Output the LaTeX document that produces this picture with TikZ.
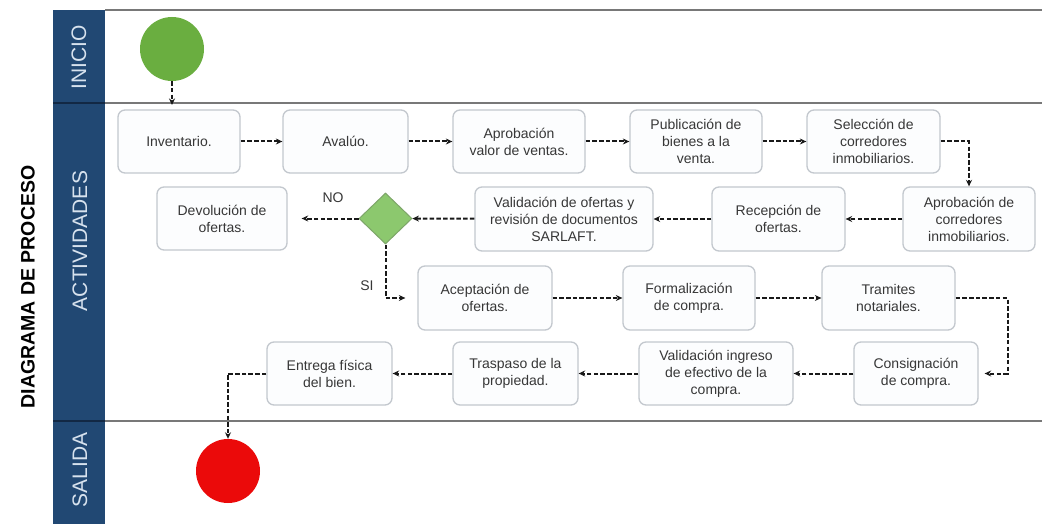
\documentclass[tikz,border=0pt]{standalone}
\usepackage{fontspec}
\setmainfont{Liberation Sans}
\usetikzlibrary{arrows.meta,shapes.geometric}
\definecolor{bandblue}{RGB}{33,72,115}
\definecolor{bandsep}{RGB}{18,40,68}
\definecolor{lanewhite}{RGB}{215,226,238}
\definecolor{lanegray}{RGB}{120,120,120}
\definecolor{boxborder}{RGB}{195,200,206}
\definecolor{boxfill}{RGB}{252,253,254}
\definecolor{txtgray}{RGB}{55,55,55}
\definecolor{arrowcol}{RGB}{25,25,25}
\definecolor{startgreen}{RGB}{106,174,64}
\definecolor{endred}{RGB}{235,10,10}
\definecolor{diafill}{RGB}{140,200,110}
\definecolor{diaborder}{RGB}{125,165,105}
\begin{document}
\begin{tikzpicture}[x=1pt,y=-1pt,
  proc/.style={draw=boxborder,line width=1.3pt,fill=boxfill,rounded corners=7pt,inner sep=0pt,align=center,font=\fontsize{14}{17}\selectfont,text=txtgray},
  conn/.style={draw=arrowcol,line width=2pt,dash pattern=on 4.5pt off 2.2pt,-{Stealth[length=6.5pt,width=6pt]}},
  lanetxt/.style={rotate=90,text=lanewhite,font=\fontsize{21}{24}\selectfont},
  laneline/.style={draw=lanegray,line width=1.8pt},
  lbl/.style={text=txtgray,font=\fontsize{14}{17}\selectfont}]
\useasboundingbox (0,0) rectangle (1042,524);
\fill[white] (0,0) rectangle (1042,524);
% lanes
\fill[bandblue] (53,10) rectangle (105,524);
\draw[bandsep,line width=2pt] (53,103) -- (105,103);
\draw[bandsep,line width=2pt] (53,421) -- (105,421);
\draw[laneline] (105,10) -- (1042,10);
\draw[laneline] (105,103) -- (1042,103);
\draw[laneline] (105,421) -- (1042,421);
\node[rotate=90,font=\bfseries\fontsize{19.5}{24}\selectfont] (title) at (28,287) {DIAGRAMA DE PROCESO};
\node[lanetxt] (linicio) at (79,57) {INICIO};
\node[lanetxt] (lactiv) at (80,241) {ACTIVIDADES};
\node[lanetxt] (lsalida) at (80,470) {SALIDA};
% events
\node[circle,fill=startgreen,minimum size=64pt,inner sep=0pt] (start) at (172,49) {};
\node[circle,fill=endred,minimum size=64pt,inner sep=0pt] (fin) at (228,471) {};
\coordinate (startend) at (172,105);
% row 1
\node[proc,minimum width=122pt,minimum height=63pt] (inv) at (179,141.5) {Inventario.};
\node[proc,minimum width=125pt,minimum height=63pt] (ava) at (345.5,141.5) {Avalúo.};
\node[proc,minimum width=132pt,minimum height=63pt] (apv) at (519,141.5) {Aprobación\\valor de ventas.};
\node[proc,minimum width=132pt,minimum height=63pt] (pub) at (696,141.5) {Publicación de\\bienes a la\\venta.};
\node[proc,minimum width=133pt,minimum height=63pt] (sel) at (873.5,141.5) {Selección de\\corredores\\inmobiliarios.};
% row 2
\node[proc,minimum width=132pt,minimum height=64pt] (apc) at (969,219) {Aprobación de\\corredores\\inmobiliarios.};
\node[proc,minimum width=133pt,minimum height=64pt] (rec) at (778.5,219) {Recepción de\\ofertas.};
\node[proc,minimum width=178pt,minimum height=64pt] (val) at (564,219) {Validación de ofertas y\\revisión de documentos\\SARLAFT.};
\node[diamond,draw=diaborder,line width=1pt,fill=diafill,minimum width=53pt,minimum height=51pt,inner sep=0pt] (dia) at (385.5,218.5) {};
\node[proc,minimum width=130pt,minimum height=63pt] (dev) at (222,218.5) {Devolución de\\ofertas.};
% row 3
\node[proc,minimum width=134pt,minimum height=64pt] (ace) at (485,298) {Aceptación de\\ofertas.};
\node[proc,minimum width=132pt,minimum height=64pt] (for) at (689,298) {Formalización\\de compra.};
\node[proc,minimum width=133pt,minimum height=64pt] (tra) at (888.5,298) {Tramites\\notariales.};
% row 4
\node[proc,minimum width=124pt,minimum height=63pt] (con) at (916,373.5) {Consignación\\de compra.};
\node[proc,minimum width=154pt,minimum height=63pt] (vin) at (716,373.5) {Validación ingreso\\de efectivo de la\\compra.};
\node[proc,minimum width=125pt,minimum height=63pt] (trp) at (515.5,373.5) {Traspaso de la\\propiedad.};
\node[proc,minimum width=125pt,minimum height=63pt] (ent) at (329.5,373.5) {Entrega física\\del bien.};
% labels
\node[lbl] (nolbl) at (333,198) {NO};
\node[lbl] (silbl) at (367,286) {SI};
% connectors
\draw[conn] (start) -- (startend);
\draw[conn] (inv) -- (ava);
\draw[conn] (ava) -- (apv);
\draw[conn] (apv) -- (pub);
\draw[conn] (pub) -- (sel);
\draw[conn] (sel.east) -| (apc.north);
\draw[conn] (apc) -- (rec);
\draw[conn] (rec) -- (val);
\draw[conn] (val) -- (dia);
\draw[conn,shorten >=14pt] (dia.west) -- (dev.east);
\draw[conn,shorten >=12pt] (dia.south) |- (ace.west);
\draw[conn] (ace) -- (for);
\draw[conn] (for) -- (tra);
\draw[conn,shorten >=6pt] (tra.east) -- ++(52,0) |- (con.east);
\draw[conn] (con) -- (vin);
\draw[conn] (vin) -- (trp);
\draw[conn] (trp) -- (ent);
\draw[conn] (ent.west) -| (fin.north);
\end{tikzpicture}
\end{document}
